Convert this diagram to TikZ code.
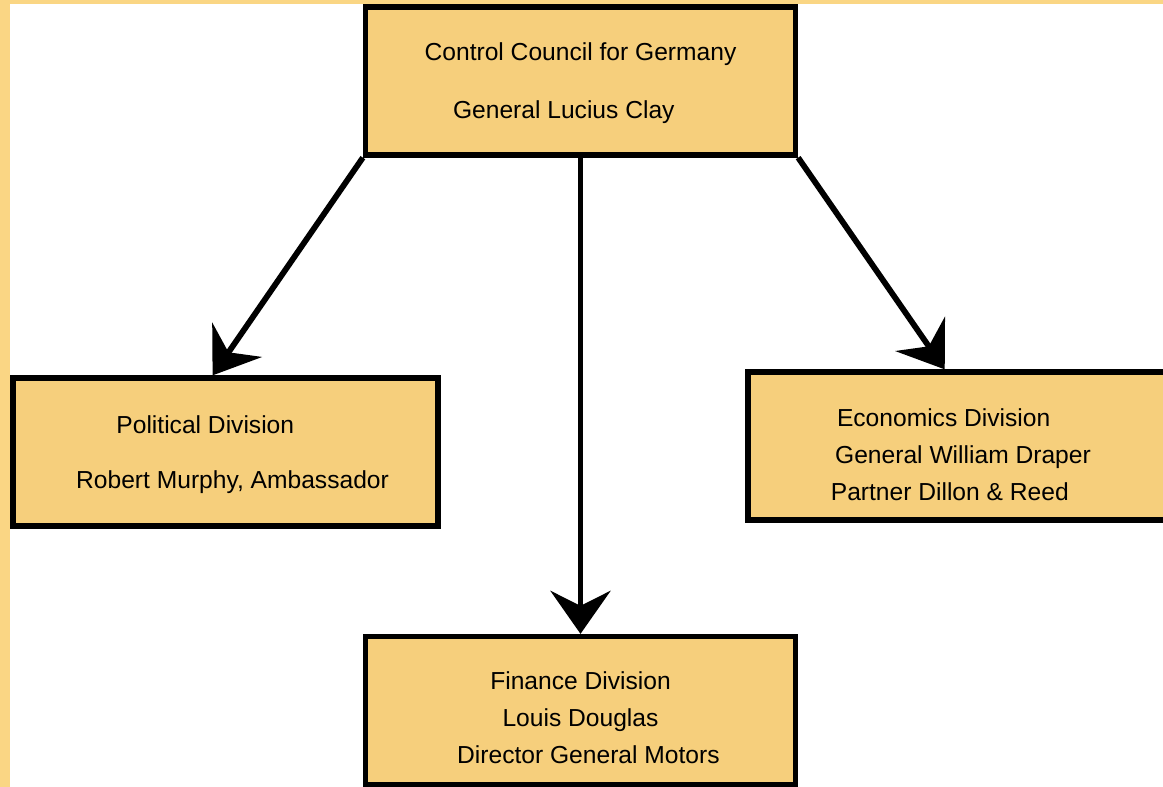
\documentclass[tikz,border=0pt]{standalone}
\usepackage{fontspec}
\setmainfont{Liberation Sans}
\usetikzlibrary{arrows.meta,calc}

\definecolor{boxfill}{RGB}{246,207,124}
\definecolor{edgeyellow}{RGB}{250,214,132}

\begin{document}
\begin{tikzpicture}[
    division/.style={draw,line width=3pt,fill=boxfill,rectangle,align=center,
      minimum width=8.6cm,minimum height=2.96cm,inner sep=0pt,
      font=\fontsize{14}{21}\selectfont},
    link/.style={line width=3.3pt,-{Stealth[length=8.6mm,width=12mm,inset=3mm]}}
  ]
  \useasboundingbox (0,0) rectangle (23.26,-15.74);
  \fill[edgeyellow] (0,0) rectangle (23.26,-15.74);
  \fill[white] (0.2,-0.08) rectangle (23.26,-15.74);

  \node[division] (ccg) at (11.61,-1.62)
       {\rule{0pt}{13pt}Control Council for Germany\\[12pt]
        General Lucius Clay\hspace*{19pt}};
  \node[division,minimum width=8.5cm] (pol) at (4.51,-9.04)
       {\rule{0pt}{13pt}Political Division\hspace*{23pt}\\[10pt]
        \hspace*{8pt}Robert Murphy, Ambassador};
  \node[division] (eco) at (19.26,-8.92)
       {\rule{0pt}{20pt}Economics Division\hspace*{22pt}\\
        General William Draper\hspace*{15pt}\\
        Partner Dillon \& Reed\hspace*{15pt}};
  \node[division] (fin) at (11.61,-14.21)
       {\rule{0pt}{18pt}Finance Division\\
        Louis Douglas\hspace*{20pt}\\
        \hspace*{9pt}Director General Motors};

  \draw[link] (ccg.south west) -- ($(pol.north west)!0.47!(pol.north east)$);
  \draw[link] (ccg.south) -- (fin.north);
  \draw[link] (ccg.south east) -- ($(eco.north west)!0.458!(eco.north east)$);
\end{tikzpicture}
\end{document}
